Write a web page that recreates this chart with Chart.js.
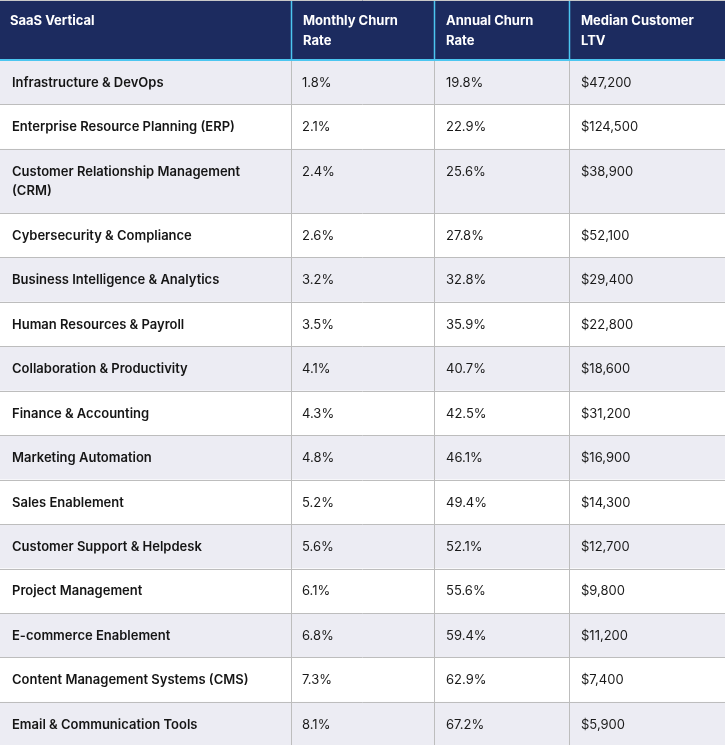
<!DOCTYPE html>
<html>
<head>
<meta charset="utf-8">
<script src="https://cdn.jsdelivr.net/npm/chart.js@4.4.1/dist/chart.umd.min.js"></script>
<style>
  html, body { margin: 0; padding: 0; background: #ffffff; overflow: hidden; }
  #wrap { width: 725px; height: 745px; position: relative; }
</style>
</head>
<body>
<div id="wrap"><canvas id="c" width="725" height="745"></canvas></div>
<script>
// ---- data ----
const headers = ["SaaS Vertical", "Monthly Churn Rate", "Annual Churn Rate", "Median Customer LTV"];
const verticals = [
  "Infrastructure & DevOps",
  "Enterprise Resource Planning (ERP)",
  "Customer Relationship Management (CRM)",
  "Cybersecurity & Compliance",
  "Business Intelligence & Analytics",
  "Human Resources & Payroll",
  "Collaboration & Productivity",
  "Finance & Accounting",
  "Marketing Automation",
  "Sales Enablement",
  "Customer Support & Helpdesk",
  "Project Management",
  "E-commerce Enablement",
  "Content Management Systems (CMS)",
  "Email & Communication Tools"
];
const monthlyChurn = [1.8, 2.1, 2.4, 2.6, 3.2, 3.5, 4.1, 4.3, 4.8, 5.2, 5.6, 6.1, 6.8, 7.3, 8.1];
const annualChurn = [19.8, 22.9, 25.6, 27.8, 32.8, 35.9, 40.7, 42.5, 46.1, 49.4, 52.1, 55.6, 59.4, 62.9, 67.2];
const medianLTV = [47200, 124500, 38900, 52100, 29400, 22800, 18600, 31200, 16900, 14300, 12700, 9800, 11200, 7400, 5900];

// ---- layout / style ----
const colFractions = [291, 143, 135, 156];
const FONT = "Inter, 'Noto Sans', sans-serif";

function fmtPct(v) { return v.toFixed(1) + "%"; }
function fmtMoney(v) { return "$" + v.toLocaleString("en-US"); }

function wrapText(ctx, text, maxW) {
  const words = text.split(" ");
  const lines = [];
  let cur = "";
  for (const w of words) {
    const t = cur ? cur + " " + w : w;
    if (cur && ctx.measureText(t).width > maxW) { lines.push(cur); cur = w; }
    else cur = t;
  }
  if (cur) lines.push(cur);
  return lines;
}

const tablePlugin = {
  id: "tablePlugin",
  afterDraw(chart) {
    const ctx = chart.ctx;
    const area = chart.chartArea;
    const W = area.right - area.left;
    const totalFr = colFractions.reduce((a, b) => a + b, 0);
    const xs = [area.left];
    colFractions.forEach(f => xs.push(xs[xs.length - 1] + f / totalFr * W));
    const padX = 12;

    ctx.save();
    // Header
    ctx.font = "600 13px " + FONT;
    const hLines = headers.map((h, i) => wrapText(ctx, h, xs[i + 1] - xs[i] - 2 * padX));
    const hMax = Math.max(...hLines.map(l => l.length));
    const hLH = 20;
    const headerH = hMax * hLH + 20;
    let y = area.top;
    ctx.fillStyle = "#1c2b5f";
    ctx.fillRect(area.left, y, W, headerH);
    ctx.fillStyle = "#ffffff";
    ctx.textBaseline = "middle";
    ctx.textAlign = "left";
    ctx.font = "700 13px " + FONT;
    hLines.forEach((lines, i) => {
      lines.forEach((ln, k) => ctx.fillText(ln, xs[i] + padX - (i === 0 ? 2 : 0), y + 21 + k * hLH));
    });
    // header separators (cyan)
    ctx.strokeStyle = "#4cc6f0";
    ctx.lineWidth = 1.5;
    for (let i = 1; i < xs.length - 1; i++) {
      ctx.beginPath(); ctx.moveTo(Math.round(xs[i]) + 0.5, y); ctx.lineTo(Math.round(xs[i]) + 0.5, y + headerH); ctx.stroke();
    }
    // top grey border
    ctx.strokeStyle = "#c8c8c8";
    ctx.lineWidth = 1;
    ctx.beginPath(); ctx.moveTo(area.left, y + 0.5); ctx.lineTo(area.right, y + 0.5); ctx.stroke();
    y += headerH;

    // Body
    const bLH = 19.6;
    const bPad = 24.85;
    const rowTops = [];
    verticals.forEach((name, r) => {
      ctx.font = "600 13px " + FONT;
      const nameLines = wrapText(ctx, name, xs[1] - xs[0] - 2 * padX);
      const rh = nameLines.length * bLH + bPad;
      rowTops.push([y, rh]);
      ctx.fillStyle = r % 2 === 0 ? "#ececf3" : "#ffffff";
      ctx.fillRect(area.left, y, W, rh);
      ctx.fillStyle = "#151515";
      ctx.textBaseline = "middle";
      nameLines.forEach((ln, k) => ctx.fillText(ln, xs[0] + padX, y + 23 + k * bLH));
      ctx.font = "400 13px " + FONT;
      ctx.fillStyle = "#1a1a1a";
      ctx.fillText(fmtPct(monthlyChurn[r]), xs[1] + padX - 1, y + 23);
      ctx.fillText(fmtPct(annualChurn[r]), xs[2] + padX, y + 23);
      ctx.fillText(fmtMoney(medianLTV[r]), xs[3] + padX, y + 23);
      y += rh;
    });

    // grid lines body
    ctx.strokeStyle = "#bdbdbd";
    ctx.lineWidth = 1;
    rowTops.forEach(([ty, rh], r) => {
      if (r > 0) {
        ctx.beginPath(); ctx.moveTo(area.left, Math.round(ty) + 0.5); ctx.lineTo(area.right, Math.round(ty) + 0.5); ctx.stroke();
      }
    });
    const bodyTop = area.top + headerH;
    for (let i = 1; i < xs.length - 1; i++) {
      ctx.beginPath(); ctx.moveTo(Math.round(xs[i]) + 0.5, bodyTop); ctx.lineTo(Math.round(xs[i]) + 0.5, y); ctx.stroke();
    }
    // header bottom cyan border
    ctx.strokeStyle = "#4cc6f0";
    ctx.lineWidth = 2;
    ctx.beginPath(); ctx.moveTo(area.left, bodyTop); ctx.lineTo(area.right, bodyTop); ctx.stroke();
    ctx.restore();
  }
};

new Chart(document.getElementById("c"), {
  type: "bar",
  data: {
    labels: verticals,
    datasets: [{ label: "Monthly Churn Rate", data: monthlyChurn, backgroundColor: "rgba(0,0,0,0)", borderWidth: 0 }]
  },
  options: {
    responsive: false,
    animation: false,
    events: [],
    layout: { padding: 0 },
    plugins: { legend: { display: false }, tooltip: { enabled: false }, title: { display: false } },
    scales: { x: { display: false }, y: { display: false } }
  },
  plugins: [tablePlugin]
});
</script>
</body>
</html>
